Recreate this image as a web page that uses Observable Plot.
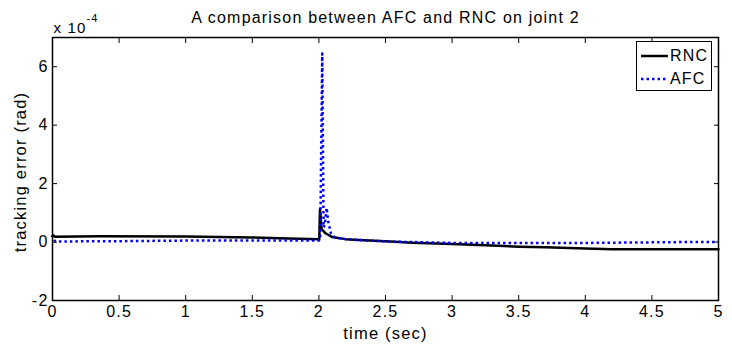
<!DOCTYPE html>
<html><head><meta charset="utf-8">
<script src="https://cdn.jsdelivr.net/npm/d3@7"></script>
<script src="https://cdn.jsdelivr.net/npm/@observablehq/plot@0.6"></script>
<style>
body{margin:0;background:#fff;}
#chart{position:relative;width:732px;height:347px;font-family:"Liberation Sans",Arial,sans-serif;}
#legend{position:absolute;left:636px;top:41px;width:74px;height:48px;border:1px solid #000;background:#fff;font-size:16px;letter-spacing:1.2px;}
.lg{position:absolute;left:0;height:20px;display:flex;align-items:center;}
.lg svg{margin-left:4px;margin-right:2px;}
</style></head><body><div id="chart"><div id="legend"></div></div>
<script>
const title = "A comparison between AFC and RNC on joint 2";
const xLabel = "time (sec)";
const yLabel = "tracking error (rad)";
const yExponentBase = "x 10";
const yExponent = "-4";
const xTicks = [0, 0.5, 1, 1.5, 2, 2.5, 3, 3.5, 4, 4.5, 5];
const yTicks = [-2, 0, 2, 4, 6];
const seriesNames = ["RNC", "AFC"];
const seriesColors = ["#000000", "#0000ff"];

// RNC tracking error (x 1e-4 rad)
const rncTime  = [0, 0.005, 0.012, 0.02, 0.35, 1.0, 1.5, 1.7, 2.0, 2.003, 2.008, 2.02, 2.05, 2.1, 2.2, 2.3, 2.5, 2.7, 3.0, 3.3, 3.5, 3.7, 4.0, 4.2, 5.0];
const rncValue = [0.2, 0.24, 0.2, 0.18, 0.2, 0.19, 0.16, 0.13, 0.1, 0.1, 1.12, 0.45, 0.3, 0.17, 0.1, 0.07, 0.03, -0.02, -0.07, -0.12, -0.16, -0.18, -0.22, -0.25, -0.25];
// AFC tracking error (x 1e-4 rad)
const afcTime  = [0, 0.01, 0.02, 0.5, 1.0, 1.5, 2.0, 2.01, 2.025, 2.035, 2.045, 2.058, 2.07, 2.09, 2.12, 2.2, 2.3, 2.5, 3.0, 4.0, 4.75, 5.0];
const afcValue = [0.25, 0.1, 0.02, 0.03, 0.05, 0.05, 0.05, 0.1, 6.45, 0.5, 0.6, 1.17, 0.7, 0.3, 0.15, 0.1, 0.07, 0.02, -0.03, -0.03, 0.0, 0.0];

const rnc = rncTime.map((t, i) => ({t, v: rncValue[i]}));
const afc = afcTime.map((t, i) => ({t, v: afcValue[i]}));
const fmt = d => String(d);

const plot = Plot.plot({
  width: 732, height: 347,
  marginLeft: 52, marginRight: 14, marginTop: 37, marginBottom: 47,
  style: {fontFamily: "'Liberation Sans', Arial, sans-serif", fontSize: "16px", background: "white", color: "black", letterSpacing: "1.2px"},
  x: {domain: [0, 5]},
  y: {domain: [-2, 7]},
  marks: [
    Plot.lineY(rnc, {x: "t", y: "v", stroke: seriesColors[0], strokeWidth: 2.5}),
    Plot.lineY(afc, {x: "t", y: "v", stroke: seriesColors[1], strokeWidth: 2.5, strokeDasharray: "2.5,3", strokeLinecap: "butt"}),
    Plot.frame({stroke: "black", strokeWidth: 1.5}),
    Plot.axisX(xTicks, {anchor: "bottom", tickSize: -5, tickPadding: 10, tickFormat: fmt, label: null, fontSize: 16}),
    Plot.axisX(xTicks, {anchor: "top", tickSize: -5, tickFormat: () => "", label: null}),
    Plot.axisY(yTicks, {anchor: "left", tickSize: -5, tickPadding: 9, tickFormat: fmt, label: null, fontSize: 16}),
    Plot.axisY(yTicks, {anchor: "right", tickSize: -5, tickFormat: () => "", label: null}),
    Plot.text([title], {text: d => d, frameAnchor: "top", dy: -15, lineAnchor: "bottom", fontSize: 16}),
    Plot.text([yExponentBase], {text: d => d, frameAnchor: "top-left", dx: 1, dy: -5, textAnchor: "start", lineAnchor: "bottom", fontSize: 15}),
    Plot.text([yExponent], {text: d => d, frameAnchor: "top-left", dx: 34, dy: -16, textAnchor: "start", lineAnchor: "bottom", fontSize: 11}),
    Plot.text([xLabel], {text: d => d, frameAnchor: "bottom", dy: 38, lineAnchor: "bottom", fontSize: 16.5}),
    Plot.text([yLabel], {text: d => d, frameAnchor: "left", dx: -32, dy: 3, textAnchor: "middle", rotate: -90, fontSize: 16.5})
  ]
});
document.getElementById("chart").prepend(plot);

const legend = document.getElementById("legend");
seriesNames.forEach((name, i) => {
  const row = document.createElement("div");
  row.className = "lg";
  row.style.top = (i === 0 ? 4 : 27) + "px";
  const dash = i === 0 ? "" : ' stroke-dasharray="2.5,3"';
  row.innerHTML = `<svg width="27" height="6"><line x1="0" y1="3" x2="27" y2="3" stroke="${seriesColors[i]}" stroke-width="2.5"${dash}/></svg><span>${name}</span>`;
  legend.appendChild(row);
});
</script>
</body></html>
